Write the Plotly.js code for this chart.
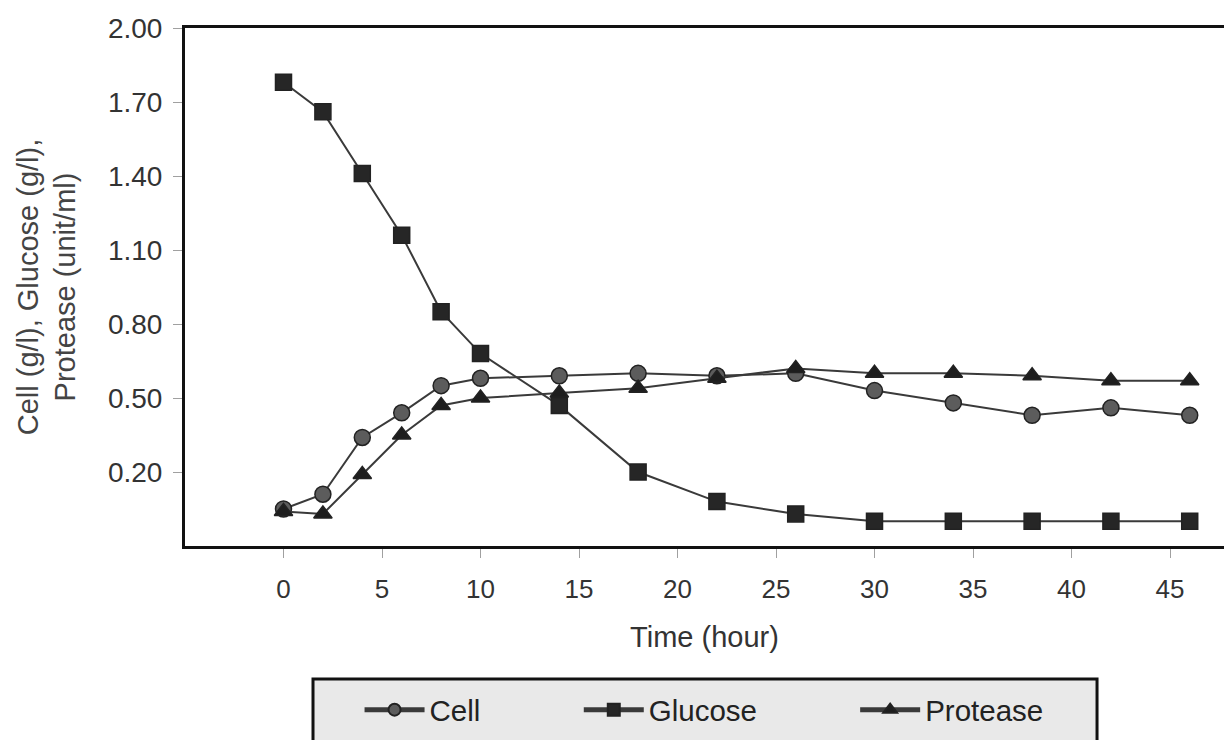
<!DOCTYPE html>
<html>
<head>
<meta charset="utf-8">
<script src="https://cdn.plot.ly/plotly-3.0.1.min.js"></script>
<style>
    html, body { margin: 0; padding: 0; background: #ffffff; overflow: hidden; }
    #chart { width: 1224px; height: 740px; }
</style>
</head>
<body>
<div id="chart"></div>
<script>
// Fermentation time course: cell, glucose and protease

const timeHours = [0, 2, 4, 6, 8, 10, 14, 18, 22, 26, 30, 34, 38, 42, 46];
const cellValues = [0.05, 0.11, 0.34, 0.44, 0.55, 0.58, 0.59, 0.60, 0.59, 0.60, 0.53, 0.48, 0.43, 0.46, 0.43];
const glucoseValues = [1.78, 1.66, 1.41, 1.16, 0.85, 0.68, 0.47, 0.20, 0.08, 0.03, 0.00, 0.00, 0.00, 0.00, 0.00];
const proteaseValues = [0.04, 0.03, 0.19, 0.35, 0.47, 0.50, 0.52, 0.54, 0.58, 0.62, 0.60, 0.60, 0.59, 0.57, 0.57];

const yTicks = [0.20, 0.50, 0.80, 1.10, 1.40, 1.70, 2.00];
const xTicks = [0, 5, 10, 15, 20, 25, 30, 35, 40, 45];

const FONT = '"Liberation Sans", Arial, sans-serif';

function series(name, values, symbol, fill, legendId) {
    return {
        x: timeHours,
        y: values,
        name: name,
        type: 'scatter',
        mode: 'lines+markers',
        legend: legendId,
        line: { color: '#3a3a3a', width: 2 },
        marker: {
            symbol: symbol,
            size: 16,
            color: fill,
            line: { color: '#222222', width: 1.5 }
        }
    };
}

const data = [
    series('Cell', cellValues, 'circle', '#5c5c5c', 'legend'),
    series('Glucose', glucoseValues, 'square', '#262626', 'legend2'),
    series('Protease', proteaseValues, 'triangle-up', '#1e1e1e', 'legend3')
];

// each legend entry sits on its own, all inside one grey box
function legendAt(xPos) {
    return {
        x: xPos,
        y: -0.3166,
        xanchor: 'left',
        yanchor: 'middle',
        orientation: 'h',
        bgcolor: 'rgba(0,0,0,0)',
        borderwidth: 0,
        itemwidth: 60,
        itemsizing: 'constant',
        font: { family: FONT, size: 29.5, color: '#222222' }
    };
}

const layout = {
    width: 1224,
    height: 740,
    margin: { l: 185, r: 0, t: 28, b: 194 },
    paper_bgcolor: '#ffffff',
    plot_bgcolor: '#ffffff',
    font: { family: FONT, color: '#333333' },
    showlegend: true,
    xaxis: {
        range: [-5, 47.74],
        tickvals: xTicks,
        ticktext: xTicks.map(String),
        ticks: 'outside',
        ticklen: 9,
        tickcolor: '#a0a0a0',
        tickwidth: 1,
        ticklabelstandoff: 9,
        showgrid: false,
        zeroline: false,
        showline: true,
        mirror: true,
        linecolor: '#111111',
        linewidth: 3,
        tickfont: { family: FONT, size: 26, color: '#333333' },
        title: {
            text: 'Time (hour)',
            standoff: 24,
            font: { family: FONT, size: 29, color: '#333333' }
        }
    },
    yaxis: {
        range: [-0.1, 2.0],
        tickvals: yTicks,
        ticktext: yTicks.map(v => v.toFixed(2)),
        ticks: 'outside',
        ticklen: 9,
        tickcolor: '#a0a0a0',
        tickwidth: 1,
        ticklabelstandoff: 5,
        showgrid: false,
        zeroline: false,
        showline: true,
        mirror: false,
        linecolor: '#111111',
        linewidth: 3,
        tickfont: { family: FONT, size: 28, color: '#333333' },
        title: {
            text: 'Cell (g/l), Glucose (g/l),<br>Protease (unit/ml)',
            standoff: 24,
            font: { family: FONT, size: 29, color: '#444444' }
        }
    },
    legend: legendAt(0.168),
    legend2: legendAt(0.379),
    legend3: legendAt(0.645),
    shapes: [{
        type: 'rect',
        xref: 'paper',
        yref: 'paper',
        x0: 0.1232,
        x1: 0.8778,
        y0: -0.413,
        y1: -0.2568,
        fillcolor: '#e9e9e9',
        line: { color: '#111111', width: 3 },
        layer: 'below'
    }]
};

Plotly.newPlot('chart', data, layout, { displayModeBar: false, staticPlot: true });
</script>
</body>
</html>
